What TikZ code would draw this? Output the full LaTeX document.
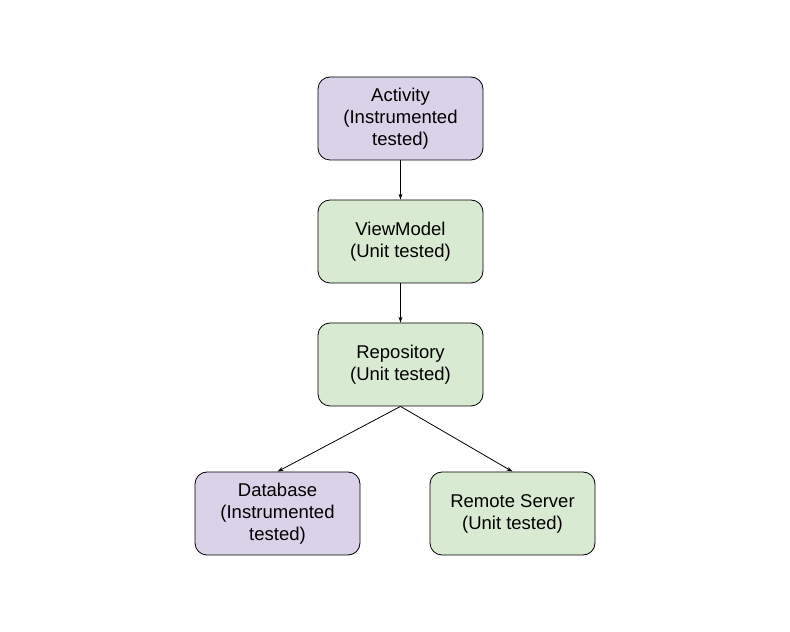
\documentclass[tikz,border=0pt]{standalone}
\usepackage{fontspec}
\setmainfont{Liberation Sans}
\usepackage{tikz}
\usetikzlibrary{arrows.meta}

\definecolor{instfill}{HTML}{D9D2E9}
\definecolor{unitfill}{HTML}{D9EAD3}

\begin{document}
\begin{tikzpicture}[x=1pt,y=1pt,->,>={Stealth[length=6pt,width=4pt]},line width=0.8pt,
    base node/.style={draw,rounded corners=12pt,minimum width=165pt,minimum height=83pt,align=center,font=\fontsize{18.5}{22}\selectfont},
    inst node/.style={base node,fill=instfill},
    unit node/.style={base node,fill=unitfill}]

	\useasboundingbox (0,0) rectangle (790,632);

	\node[inst node] (act) at (400.5,513.5) {Activity\\(Instrumented\\tested)};
	\node[unit node] (vm) at (400.5,390.5) {ViewModel\\(Unit tested)};
	\node[unit node] (repo) at (400.5,267.5) {Repository\\(Unit tested)};
	\node[inst node] (db) at (277.5,118.5) {Database\\(Instrumented\\tested)};
	\node[unit node] (remote) at (512.5,118.5) {Remote Server\\(Unit tested)};

	\draw (act) -- (vm);
	\draw (vm) -- (repo);
	\draw (repo.south) -- (db.north);
	\draw (repo.south) -- (remote.north);

\end{tikzpicture}
\end{document}
